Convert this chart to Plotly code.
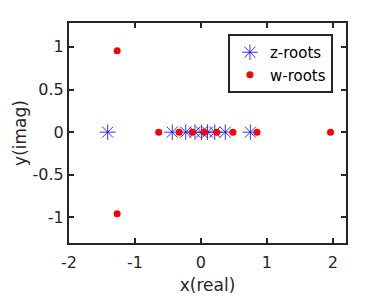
import plotly.graph_objects as go

z_re = [-1.414, -0.435, -0.23, -0.09, 0.01, 0.10, 0.21, 0.37, 0.75]
z_im = [0, 0, 0, 0, 0, 0, 0, 0, 0]
w_re = [-1.27, -1.27, -0.64, -0.33, -0.13, 0.05, 0.24, 0.485, 0.85, 1.965]
w_im = [0.956, -0.956, 0, 0, 0, 0, 0, 0, 0, 0]

x_ticks = [-2, -1, 0, 1, 2]
y_ticks = [-1, -0.5, 0, 0.5, 1]

font_fam = "DejaVu Sans, sans-serif"
axcol = "#262626"

fig = go.Figure()
fig.add_trace(go.Scatter(x=z_re, y=z_im, mode="markers", name="z-roots",
                         marker=dict(symbol="asterisk-open", size=13, color="blue",
                                     line=dict(color="blue", width=0.8))))
fig.add_trace(go.Scatter(x=w_re, y=w_im, mode="markers", name="w-roots",
                         marker=dict(symbol="circle", size=7, color="red",
                                     line=dict(width=0))))

axis_common = dict(showgrid=False, zeroline=False, showline=True, linecolor=axcol,
                   linewidth=2, mirror="allticks", ticks="inside", ticklen=5,
                   tickwidth=1.5, tickcolor=axcol, automargin=False,
                   tickfont=dict(family=font_fam, size=16, color=axcol))

# page body adds an 8px offset; the figure is sized to compensate
fig.update_layout(
    width=374, height=292,
    margin=dict(l=61, r=36, t=15, b=57),
    paper_bgcolor="white", plot_bgcolor="white",
    showlegend=True,
    legend=dict(x=0.953, y=0.95, xanchor="right", yanchor="top",
                bordercolor=axcol, borderwidth=2, bgcolor="white",
                font=dict(family=font_fam, size=15, color="black"),
                itemwidth=30, entrywidth=58, entrywidthmode="pixels",
                tracegroupgap=0),
    xaxis=dict(range=[-2, 2.2], tickvals=x_ticks, ticktext=[str(v) for v in x_ticks],
               ticklabelstandoff=4,
               title=dict(text="x(real)", font=dict(family=font_fam, size=17, color=axcol), standoff=8),
               **axis_common),
    yaxis=dict(range=[-1.3, 1.28], tickvals=y_ticks, ticktext=["-1", "-0.5", "0", "0.5", "1"],
               title=dict(text="y(imag)", font=dict(family=font_fam, size=17, color=axcol), standoff=2),
               **axis_common),
)

fig.write_html("out.html")
